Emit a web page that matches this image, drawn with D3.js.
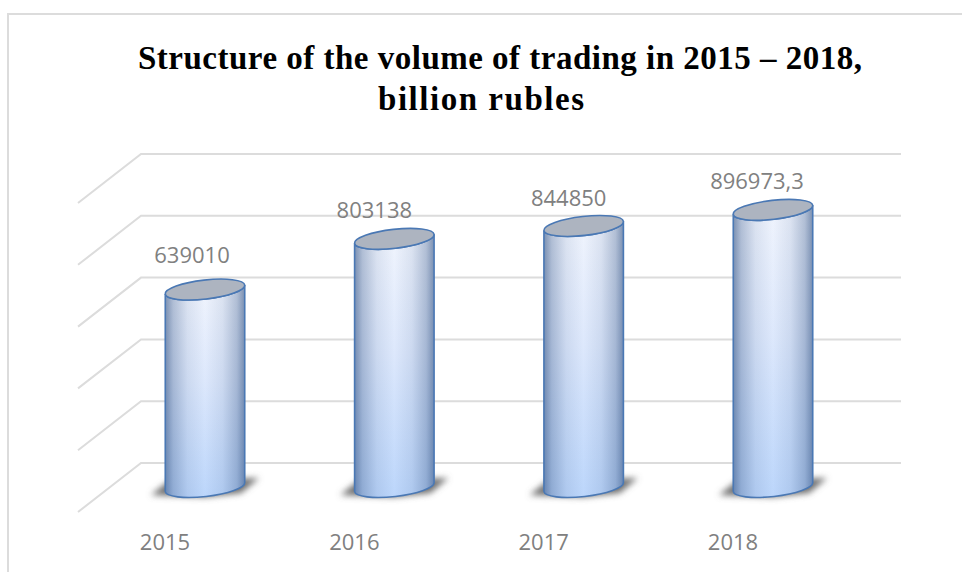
<!DOCTYPE html>
<html><head><meta charset="utf-8">
<script src="https://cdn.jsdelivr.net/npm/d3@7/dist/d3.min.js"></script>
<style>html,body{margin:0;padding:0;background:#fff}svg{display:block}</style>
</head><body><svg id="c" width="962" height="572"></svg>
<script>
const years = ["2015", "2016", "2017", "2018"];
const volumes = [639010, 803138, 844850, 896973.3];
const volumeLabels = ["639010", "803138", "844850", "896973,3"];
const gridTicks = [0, 200000, 400000, 600000, 800000, 1000000];
const titleLines = ["Structure of the volume of trading in 2015 – 2018,", "billion rubles"];
const labelShift = [-13, -20, -15, -16];
const labelLift = [27, 21, 20, 21];

const svg = d3.select("#c");
const wall = {left: 141, right: 901};
const depth = {dx: -63, dy: 49};
const floorDrop = 24;
const rx = 40, ry = 9.5, tilt = -6.5;

const y = d3.scaleLinear().domain([0, 1000000]).range([463, 154]);
const x = d3.scalePoint().domain(years).range([205, 773]);

const defs = svg.append("defs");
const body = defs.append("linearGradient").attr("id", "body").attr("x1", 0).attr("x2", 0).attr("y1", 0).attr("y2", 1);
[[0, "#f0f4fd"], [0.45, "#dde8fc"], [1, "#bcd6fb"]].forEach(([o, c]) => body.append("stop").attr("offset", o).attr("stop-color", c));
const edge = defs.append("linearGradient").attr("id", "edge");
[[0, 0.6], [0.1, 0.32], [0.28, 0.1], [0.5, 0], [0.72, 0.1], [0.9, 0.32], [1, 0.6]].forEach(([o, a]) =>
  edge.append("stop").attr("offset", o).attr("stop-color", "#2f4f80").attr("stop-opacity", a));
defs.append("filter").attr("id", "soft").attr("x", "-30%").attr("y", "-80%").attr("width", "160%").attr("height", "260%")
  .append("feGaussianBlur").attr("stdDeviation", 3.2);

// chart frame, open at the bottom and running off the right edge
svg.append("path").attr("d", "M8,572V14H962").attr("fill", "none").attr("stroke", "#dcdcdc").attr("stroke-width", 2);

// back wall gridlines and their side-wall returns
const grid = svg.append("g").attr("fill", "none").attr("stroke", "#dcdcdc").attr("stroke-width", 2);
grid.selectAll("path").data(gridTicks).join("path")
  .attr("d", d => `M${wall.left + depth.dx},${y(d) + depth.dy}L${wall.left},${y(d)}H${wall.right}`);

// cylinders
const cyl = svg.append("g").selectAll("g").data(years).join("g")
  .attr("transform", d => `translate(${x(d)},0)`);

const baseY = y(0) + floorDrop;
cyl.append("path").attr("fill", "#6e6e6e").attr("filter", "url(#soft)")
  .attr("d", `M-54,${baseY + 8}L-36,${baseY - 6}L54,${baseY - 9}L36,${baseY + 6}L0,${baseY + 10}Z`);

const dxT = rx * Math.cos(tilt * Math.PI / 180), dyT = rx * Math.sin(tilt * Math.PI / 180);
const bodyPath = (d, i) => {
  const top = y(volumes[i]) + floorDrop;
  return `M${-dxT},${top - dyT}L${-dxT},${baseY - dyT}` +
    `A${rx},${ry} ${tilt} 0 0 ${dxT},${baseY + dyT}L${dxT},${top + dyT}` +
    `A${rx},${ry} ${tilt} 0 1 ${-dxT},${top - dyT}Z`;
};
cyl.append("path").attr("d", bodyPath).attr("fill", "url(#body)");
cyl.append("path").attr("d", bodyPath).attr("fill", "url(#edge)").attr("stroke", "#4a78b4").attr("stroke-width", 1.6);
cyl.append("ellipse")
  .attr("rx", rx).attr("ry", ry)
  .attr("transform", (d, i) => `translate(0,${y(volumes[i]) + floorDrop}) rotate(${tilt})`)
  .attr("fill", "#adb4c0").attr("stroke", "#4a78b4").attr("stroke-width", 1.6);

// value labels above the cylinders
svg.append("g").attr("font-family", "'Open Sans'").attr("font-size", 22).attr("fill", "#808080").attr("text-anchor", "middle")
  .selectAll("text").data(volumeLabels).join("text")
  .attr("x", (d, i) => x(years[i]) + labelShift[i])
  .attr("y", (d, i) => y(volumes[i]) + floorDrop - labelLift[i])
  .text(d => d);

// category labels
svg.append("g").attr("font-family", "'Open Sans'").attr("font-size", 22).attr("fill", "#808080").attr("text-anchor", "middle")
  .selectAll("text").data(years).join("text")
  .attr("x", d => x(d) - 40).attr("y", 550).text(d => d);

// title
const titleWidths = [724, 206];
svg.append("g").attr("font-family", "'Liberation Serif'").attr("font-weight", "bold").attr("font-size", 33).attr("fill", "#000").attr("text-anchor", "middle")
  .selectAll("text").data(titleLines).join("text")
  .attr("x", (d, i) => i ? 481 : 500).attr("y", (d, i) => 69 + i * 41)
  .attr("textLength", (d, i) => titleWidths[i]).attr("lengthAdjust", "spacing")
  .text(d => d);
</script></body></html>
